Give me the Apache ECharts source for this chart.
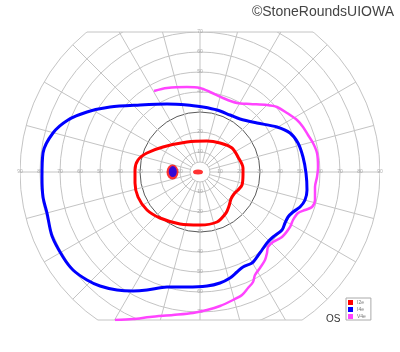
<!DOCTYPE html>
<html>
<head>
<meta charset="utf-8">
<script src="https://cdn.jsdelivr.net/npm/echarts@6/dist/echarts.min.js"></script>
<style>
html,body{margin:0;padding:0;background:#fff;}
#chart{width:400px;height:352px;}
</style>
</head>
<body>
<div id="chart"></div>
<script>
// ---- Data (degrees of visual field: x = horizontal, y = vertical) ----
const ringRadii = [5, 10, 20, 30, 40, 50, 60, 70, 80, 90];
const spokeAngles = [0, 15, 30, 45, 60, 75, 90, 105, 120, 135, 150, 165, 180, 195, 210, 225, 240, 255, 270, 285, 300, 315, 330, 345];
const horizontalTicks = [10, 20, 30, 40, 50, 60, 70, 80, 90];
const verticalTicksUp = [10, 20, 30, 40, 50, 60, 70];
const verticalTicksDown = [10, 20, 30, 40, 50, 60, 70];
const fieldTop = 70;
const fieldBottom = -74;
const fieldMax = 90;

const isoI2e = [
  [21.5, -1.5], [21, -6.5], [19, -9], [17, -11], [15.5, -13.5], [14.5, -17], [13, -20.5],
  [8.5, -25], [0, -26.5], [-10, -26], [-20, -23], [-26.5, -19], [-31, -12.5], [-32.5, -5.5],
  [-32.5, 1], [-31, 6], [-26.5, 9.5], [-18.5, 12.5], [-6.5, 15], [3.5, 15.5], [10, 14.5],
  [16, 12], [19, 7.5], [21.5, 2], [21.5, -1.5]
];
const isoI4e = [
  [1.5, 32.5], [8.5, 31], [15, 28.5], [20, 26.5], [28.5, 24.5], [38.5, 22.5], [45, 19.5],
  [49, 14.5], [51.5, 7.5], [53, -0.5], [53.5, -9], [52.5, -14], [50, -17.5], [46.5, -20],
  [44, -22.5], [42.5, -25.5], [41, -29], [36.5, -32.5], [33.5, -35.5], [31, -39], [28.5, -42.5],
  [26, -45.5], [21.5, -47.5], [18.5, -50], [15, -53], [10, -55.5], [3.5, -57], [-6.5, -57.5],
  [-16.5, -57.5], [-26.5, -59], [-33.5, -59.5], [-41.5, -59], [-50, -57], [-56.5, -54],
  [-63.5, -49], [-68.5, -42.5], [-74, -32], [-76.5, -20.5], [-78.5, -12.5], [-79, -2.5],
  [-78.5, 9.5], [-73.5, 19.5], [-66, 26], [-56.5, 30], [-45, 32.5], [-30, 33.5], [-16.5, 34],
  [-6.5, 33.5], [1.5, 32.5]
];
const isoV4e = [
  [-23, 40.5], [-16.5, 42], [-6.5, 42.5], [0, 42], [5, 40], [11.5, 37], [18.5, 34.5], [25, 34],
  [33.5, 33.5], [38.5, 32.5], [43.5, 29.5], [48.5, 26], [51.5, 22.5], [54, 18.5], [56.5, 14.5],
  [58.5, 9.5], [59, 2.5], [58.5, -2.5], [57.5, -7.5], [57.5, -14], [56, -17.5], [52.5, -19],
  [49, -20.5], [46.5, -24], [45, -27.5], [41, -32.5], [36.5, -35], [34, -37.5], [33.5, -40.5],
  [32.5, -44], [30, -48], [27.5, -51.5], [26.5, -55], [24, -58], [21, -61.5], [16.5, -64],
  [10, -67], [3.5, -69], [-3.5, -70.5], [-13.5, -71.5], [-25, -72.5], [-33.5, -73.5], [-42.5, -74]
];
const centralI2e = [[-1, 0]];
const blindSpotI2e = [[-13.75, 0]];
const blindSpotI4e = [[-13.6, 0.2]];

const gridColor = '#c4c4c4';
const ellipsePath = 'path://M0,10 A10,10 0 1,1 20,10 A10,10 0 1,1 0,10 Z';

const labelData = [];
horizontalTicks.forEach(v => { labelData.push([-v, 0, v]); labelData.push([v, 0, v]); });
verticalTicksUp.forEach(v => labelData.push([0, v, v]));
verticalTicksDown.forEach(v => labelData.push([0, -v, v]));

function renderGrid(params, api) {
  const c = api.coord([0, 0]);
  const unit = api.size([1, 1])[0];
  const children = [];
  ringRadii.forEach(r => {
    children.push({
      type: 'circle',
      shape: { cx: c[0], cy: c[1], r: r * unit },
      style: { fill: 'none', stroke: r === 30 ? '#5a5a5a' : gridColor, lineWidth: 1 }
    });
  });
  spokeAngles.forEach(a => {
    const t = a * Math.PI / 180;
    const p1 = api.coord([ringRadii[0] * Math.cos(t), ringRadii[0] * Math.sin(t)]);
    const p2 = api.coord([fieldMax * Math.cos(t), fieldMax * Math.sin(t)]);
    children.push({
      type: 'line',
      shape: { x1: p1[0], y1: p1[1], x2: p2[0], y2: p2[1] },
      style: { stroke: gridColor, lineWidth: 1 }
    });
  });
  return { type: 'group', children };
}

function renderEdges(params, api) {
  const children = [];
  [fieldTop, fieldBottom].forEach(y => {
    const hx = Math.sqrt(fieldMax * fieldMax - y * y);
    const p1 = api.coord([-hx, y]);
    const p2 = api.coord([hx, y]);
    children.push({
      type: 'line',
      shape: { x1: p1[0], y1: p1[1], x2: p2[0], y2: p2[1] },
      style: { stroke: gridColor, lineWidth: 1 }
    });
  });
  return { type: 'group', children };
}

const chart = echarts.init(document.getElementById('chart'), null, { renderer: 'canvas' });
chart.setOption({
  animation: false,
  backgroundColor: '#fff',
  title: [
    { text: '©StoneRoundsUIOWA', right: 1, top: 0,
      textStyle: { fontSize: 14, fontWeight: 'normal', color: '#444', fontFamily: 'Liberation Sans' } },
    { text: 'OS', left: 321, top: 309,
      textStyle: { fontSize: 10, fontWeight: 'normal', color: '#333', fontFamily: 'Liberation Sans' } }
  ],
  legend: {
    data: [{ name: 'I2e', icon: 'rect' }, { name: 'I4e', icon: 'rect' }, { name: 'V4e', icon: 'rect' }],
    orient: 'vertical', left: 346, top: 298,
    itemWidth: 5, itemHeight: 5, itemGap: 2,
    padding: [2, 5, 1, 2],
    borderColor: '#aaa', borderWidth: 1,
    textStyle: { fontSize: 5, color: '#777', padding: [0, 0, 0, -1] },
    selectedMode: false
  },
  grid: { left: 20, width: 360, top: 32, height: 288, containLabel: false },
  xAxis: { type: 'value', min: -90, max: 90, show: false },
  yAxis: { type: 'value', min: fieldBottom, max: fieldTop, show: false },
  series: [
    { type: 'custom', name: 'grid', data: [[0, 0]], renderItem: renderGrid, clip: true, z: 0, silent: true },
    { type: 'custom', name: 'edges', data: [[0, 0]], renderItem: renderEdges, clip: false, z: 0, silent: true },
    { type: 'scatter', name: 'labels', data: labelData, symbolSize: 0, z: 1, silent: true,
      label: { show: true, position: 'inside', formatter: p => p.value[2],
               fontSize: 5, color: '#999', fontFamily: 'Liberation Sans' } },
    { type: 'line', name: 'V4e', data: isoV4e, smooth: 0.3, showSymbol: false,
      lineStyle: { color: '#ff44ff', width: 2.5 }, itemStyle: { color: '#ff44ff' }, z: 3 },
    { type: 'line', name: 'I4e', data: isoI4e, smooth: 0.3, showSymbol: false,
      lineStyle: { color: '#0000ff', width: 3 }, itemStyle: { color: '#0000ff' }, z: 4 },
    { type: 'line', name: 'I2e', data: isoI2e, smooth: 0.3, showSymbol: false,
      lineStyle: { color: '#ff0000', width: 3 }, itemStyle: { color: '#ff0000' }, z: 5 },
    { type: 'scatter', name: 'I2e', data: centralI2e, symbol: ellipsePath, symbolSize: [10, 5],
      itemStyle: { color: '#ff0000' }, z: 5 },
    { type: 'scatter', name: 'I2e', data: blindSpotI2e, symbol: ellipsePath, symbolSize: [12, 15],
      itemStyle: { color: '#ff0000' }, z: 5 },
    { type: 'scatter', name: 'I4e', data: blindSpotI4e, symbol: ellipsePath, symbolSize: [8, 11],
      itemStyle: { color: '#0000ff' }, z: 6 }
  ]
});
</script>
</body>
</html>
